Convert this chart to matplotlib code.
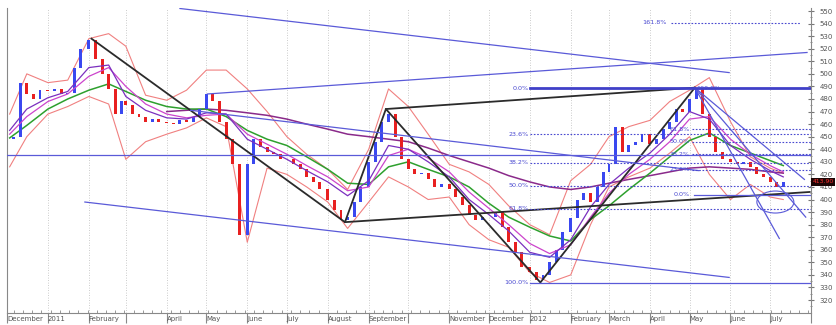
import numpy as np
import pandas as pd
import matplotlib
matplotlib.use('Agg')
import matplotlib.pyplot as plt
import matplotlib.dates as mdates
from matplotlib.patches import Ellipse
from matplotlib.transforms import ScaledTranslation

closes = [
    450, 493, 484, 480, 487,            # Dec 2010 (from the 6th)
    486, 488, 484, 485, 505, 520,       # Jan 2011
    527, 512, 500, 488, 468, 478,       # Feb
    475, 468, 466, 462, 464, 462,       # Mar
    461, 460, 463, 462, 466, 472,       # Apr
    484, 478, 462, 448, 428, 372,       # May
    428, 448, 442, 438, 436, 432,       # Jun
    432, 428, 424, 418, 414, 408,       # Jul
    400, 392, 384, 386, 398, 410,       # Aug
    430, 446, 462, 468, 450, 432,       # Sep
    424, 420, 421, 416, 410, 412,       # Oct
    408, 402, 396, 388, 384, 386,       # Nov
    386, 390, 378, 366, 358, 346,       # Dec
    342, 336, 340, 350, 360, 374,       # Jan 2012
    385, 400, 405, 398, 410, 422,       # Feb
    428, 458, 438, 443, 446, 452,       # Mar
    444, 448, 456, 462, 472, 470,       # Apr
    480, 488, 468, 450, 438, 432,       # May
    430, 428, 430, 426, 420, 418,       # Jun
    414, 410, 414,                      # Jul (to the 11th)
]
first_open = 448
last_price = '413.90'

# indicator lines, read twice a month
ma_fast = [455, 472, 481, 486, 505, 507, 482, 471, 465, 464, 469, 468, 448, 440, 432, 423, 414, 403, 415, 443,
           440, 430, 418, 400, 388, 375, 358, 354, 368, 394, 412, 425, 437, 452, 470, 464, 443, 432, 423, 418]
ma_mid = [452, 466, 478, 484, 498, 505, 490, 476, 468, 465, 467, 468, 452, 444, 436, 427, 418, 407, 410, 435,
          440, 433, 422, 406, 393, 380, 365, 357, 364, 386, 405, 420, 432, 446, 464, 466, 448, 436, 427, 422]
ma_green = [449, 459, 472, 480, 487, 492, 486, 479, 474, 472, 472, 466, 455, 448, 443, 434, 424, 413, 412, 426,
            430, 424, 418, 410, 397, 386, 378, 371, 367, 384, 395, 408, 421, 434, 447, 453, 443, 437, 431, 427]
ma_long = [np.nan] * 8 + [470, 471, 472, 471, 469, 467, 464, 460, 456, 452, 450, 448, 446, 441, 435, 430,
                          425, 419, 414, 410, 408, 410, 413, 416, 419, 422, 425, 426, 425, 424, 422, 421]
band_up = [468, 500, 493, 495, 528, 532, 522, 483, 479, 487, 503, 503, 488, 470, 450, 436, 424, 408, 440, 488,
           474, 452, 428, 422, 412, 395, 380, 372, 415, 428, 450, 458, 463, 478, 487, 497, 462, 434, 425, 421]
band_low = [426, 450, 468, 474, 482, 476, 432, 446, 452, 457, 465, 458, 366, 425, 420, 410, 398, 377, 398, 418,
            410, 400, 402, 380, 368, 362, 342, 334, 340, 380, 410, 418, 425, 437, 450, 420, 400, 412, 402, 400]

# drawn trend lines
zigzag_dates = ['2011-02-03', '2011-08-14', '2011-09-14', '2012-01-09', '2012-05-05']
zigzag_prices = [528, 382, 472, 334, 489]
black_lines = [(('2011-09-14', 472), ('2012-05-05', 489)),
               (('2011-08-14', 382), ('2012-07-31', 406))]
blue_lines = [(('2011-04-11', 552), ('2012-05-31', 501)),
              (('2011-05-02', 484), ('2012-07-29', 517)),
              (('2011-04-19', 471), ('2012-05-08', 423)),
              (('2011-01-29', 398), ('2012-05-31', 338)),
              (('2012-05-05', 489), ('2012-07-27', 416)),
              (('2012-05-05', 489), ('2012-07-28', 386)),
              (('2012-05-05', 489), ('2012-07-08', 369))]
level_line = 435.4

fib1_labels = ['0.0%', '23.6%', '38.2%', '50.0%', '61.8%', '100.0%']
fib1_prices = [488.6, 451.9, 429.3, 411.0, 392.7, 333.6]
fib2_labels = ['0.0%', '23.6%', '38.2%', '50.0%', '61.8%']
fib2_prices = [403.6, 423.6, 436.0, 446.0, 456.0]
fib2_ext = 540.8

month_labels = ['December', '2011', 'February', '', 'April', 'May', 'June', 'July', 'August', 'September', '',
                'November', 'December', '2012', 'February', 'March', 'April', 'May', 'June', 'July', '']

# dates
months = pd.date_range('2010-12-01', '2012-07-01', freq='MS')
close_dates = [m + pd.Timedelta(days=d - 1) for m in months for d in (1, 6, 11, 16, 21, 26)][1:-3]
ma_dates = pd.to_datetime(['2010-12-03', '2010-12-16']
                          + [f'{m:%Y-%m}-{d:02d}' for m in pd.date_range('2011-01-01', '2012-06-01', freq='MS')
                             for d in (1, 16)]
                          + ['2012-07-01', '2012-07-11'])
opens = [first_open] + closes[:-1]

BLUE = '#5a5ad8'
FIB = '#4848d0'
x0, x1 = pd.Timestamp('2010-12-01'), pd.Timestamp('2012-08-01')

fig, ax = plt.subplots(figsize=(8.37, 3.25), dpi=100)
fig.subplots_adjust(left=7/837, right=811/837, bottom=12/325, top=1-8/325)

# bands and averages
ax.plot(ma_dates, band_up, color='#f08080', lw=0.8, zorder=2)
ax.plot(ma_dates, band_low, color='#f08080', lw=0.8, zorder=2)
ax.plot(ma_dates, ma_long, color='#8a2a8a', lw=1.1, zorder=3)
ax.plot(ma_dates, ma_green, color='#2ea02e', lw=1.1, zorder=3)

# candles
heights = [c - o for c, o in zip(closes, opens)]
colors = ['#3a48f0' if h >= 0 else '#e82020' for h in heights]
ax.bar(close_dates, heights, bottom=opens, width=2.2, color=colors, linewidth=0, zorder=3)

ax.plot(ma_dates, ma_mid, color='#cc44cc', lw=0.9, zorder=4)
ax.plot(ma_dates, ma_fast, color='#7b2fbf', lw=0.9, zorder=4)

# trend lines
ax.plot(pd.to_datetime(zigzag_dates), zigzag_prices, color='#2b2b2b', lw=1.3, zorder=5)
for (da, pa), (db, pb) in black_lines:
    ax.plot(pd.to_datetime([da, db]), [pa, pb], color='#2b2b2b', lw=1.3, zorder=5)
for (da, pa), (db, pb) in blue_lines:
    ax.plot(pd.to_datetime([da, db]), [pa, pb], color=BLUE, lw=0.9, zorder=5)
ax.axhline(level_line, color=BLUE, lw=0.9, zorder=5)

# fibonacci levels
fib_start = pd.Timestamp('2012-01-01')
for lab, p in zip(fib1_labels, fib1_prices):
    ax.text(pd.Timestamp('2011-12-31'), p, lab, ha='right', va='center', fontsize=4.6, color=FIB, zorder=6)
    if lab == '0.0%':
        ax.plot([fib_start, x1], [p, p], color='#4040c8', lw=2, zorder=5)
    elif lab == '100.0%':
        ax.plot([fib_start, x1], [p, p], color=BLUE, lw=0.9, zorder=5)
    else:
        ax.plot([fib_start, x1], [p, p], color=FIB, lw=0.8, ls=(0, (1.5, 1.5)), zorder=5)

for lab, p in zip(fib2_labels, fib2_prices):
    ax.text(pd.Timestamp('2012-05-01'), p, lab, ha='right', va='center', fontsize=4.6, color=FIB, zorder=6)
    if lab == '0.0%':
        ax.plot([pd.Timestamp('2012-05-04'), x1], [p, p], color=BLUE, lw=0.9, zorder=5)
    else:
        ax.plot([pd.Timestamp('2012-05-03'), x1], [p, p], color=FIB, lw=0.8, ls=(0, (1.5, 1.5)), zorder=5)
ax.text(pd.Timestamp('2012-05-06'), fib1_prices[0], '100.0%', ha='left', va='center', fontsize=4.6,
        color=FIB, zorder=6)
ax.text(pd.Timestamp('2012-04-14'), fib2_ext, '161.8%', ha='right', va='center', fontsize=4.6, color=FIB)
ax.plot([pd.Timestamp('2012-04-17'), pd.Timestamp('2012-07-24')], [fib2_ext, fib2_ext], color=FIB, lw=0.8,
        ls=(0, (1.5, 1.5)))

ax.add_patch(Ellipse((mdates.date2num(pd.Timestamp('2012-07-05')), 398), width=28, height=17.5,
                     fill=False, edgecolor=BLUE, lw=0.8, zorder=6))

# axes
ax.set_xlim(x0, x1)
ax.set_ylim(309.7, 552.4)
tick_months = pd.date_range('2010-12-01', '2012-08-01', freq='MS')
ax.set_xticks(tick_months)
ax.set_xticklabels(month_labels, ha='left', fontsize=5, color='#555555')
off = ScaledTranslation(2/72, 0, fig.dpi_scale_trans)
for t in ax.get_xticklabels():
    t.set_transform(t.get_transform() + off)
ax.xaxis.set_minor_locator(mdates.WeekdayLocator(byweekday=mdates.MO))
ax.tick_params(axis='x', which='major', direction='out', length=7, color='#888888', pad=-4.5)
ax.tick_params(axis='x', which='minor', direction='in', length=2.5, color='#888888')
ax.grid(axis='x', which='major', color='#bbbbbb', lw=0.6, ls=(0, (1, 2)))

ax.yaxis.tick_right()
ax.set_yticks(np.arange(320, 551, 10))
ax.set_yticks(np.arange(315, 551, 5), minor=True)
ax.tick_params(axis='y', which='major', direction='inout', length=4, color='#777777', labelsize=5,
               labelcolor='#555555', pad=4)
ax.tick_params(axis='y', which='minor', direction='inout', length=2, color='#777777')
ax.spines['top'].set_visible(False)
for s in ['left', 'right', 'bottom']:
    ax.spines[s].set_color('#888888')
    ax.spines[s].set_linewidth(0.8)

ax.text(1.002, 414, last_price, transform=ax.get_yaxis_transform(), ha='left', va='center', fontsize=4.4,
        color='#ff3030', bbox=dict(facecolor='#1c0606', edgecolor='none', pad=1.0), clip_on=False, zorder=10)

plt.savefig('out.png', dpi=100)
